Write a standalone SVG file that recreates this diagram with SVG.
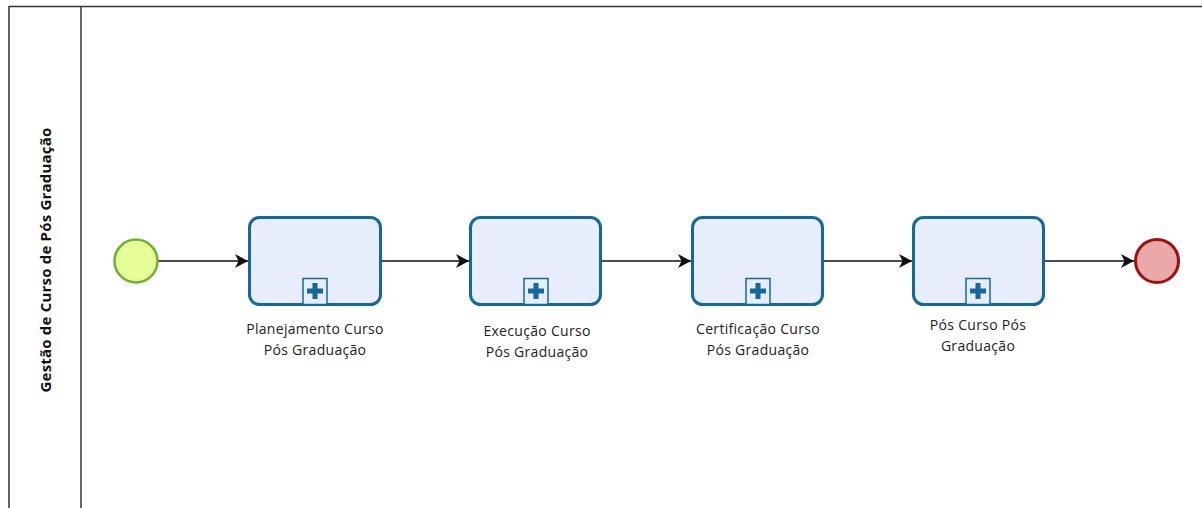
<svg xmlns="http://www.w3.org/2000/svg" width="1202" height="508" viewBox="0 0 1202 508">
<defs>
<style>
.pool{fill:#ffffff;stroke:#333333;stroke-width:1.5}
.task{fill:#e8edfb;stroke:#14689b;stroke-width:3}
.mk{fill:#e8edfb;stroke:#14689b;stroke-width:1.5}
.plus{fill:#14689b}
.lbl{font-family:"Open Sans","Noto Sans",sans-serif;font-size:14px;letter-spacing:0.3px;fill:#222222;text-anchor:middle}
.lane{font-family:"Open Sans","Noto Sans",sans-serif;font-size:15px;letter-spacing:0.2px;font-weight:bold;fill:#111111;text-anchor:middle}
.flow{stroke:#111111;stroke-width:1.5;fill:none}
</style>
<marker id="arr" viewBox="0 0 13 14" refX="13" refY="7" markerWidth="13" markerHeight="14" markerUnits="userSpaceOnUse" orient="auto">
<path d="M0,0 L13,7 L0,14 L3.5,7 Z" fill="#111111"/>
</marker>
</defs>
<rect x="0" y="0" width="1202" height="508" fill="#ffffff"/>
<g id="pool">
<path class="pool" d="M1210,6.5 L9,6.5 L9,515" fill="#fcfcfc"/>
<line x1="81" y1="6.5" x2="81" y2="515" stroke="#333333" stroke-width="1.5"/>
<text class="lane" transform="translate(51,260) rotate(-90)">Gestão de Curso de Pós Graduação</text>
</g>
<g id="connectors">
<line class="flow" x1="158" y1="261" x2="248" y2="261" marker-end="url(#arr)"/>
<line class="flow" x1="382" y1="261" x2="469" y2="261" marker-end="url(#arr)"/>
<line class="flow" x1="602" y1="261" x2="691" y2="261" marker-end="url(#arr)"/>
<line class="flow" x1="824" y1="261" x2="912" y2="261" marker-end="url(#arr)"/>
<line class="flow" x1="1044" y1="261" x2="1134" y2="261" marker-end="url(#arr)"/>
</g>
<g id="start">
<circle cx="136" cy="261" r="21.5" fill="#e6fd98" stroke="#6db234" stroke-width="2.5"/>
</g>
<g id="task1">
<rect class="task" x="249.5" y="217.5" width="131" height="87" rx="10"/>
<rect class="mk" x="303" y="278.5" width="24" height="26"/>
<rect class="plus" x="312.5" y="283" width="5" height="16"/>
<rect class="plus" x="307" y="288.5" width="16" height="5"/>
<text class="lbl" x="315" y="334">Planejamento Curso</text>
<text class="lbl" x="315" y="355">Pós Graduação</text>
</g>
<g id="task2">
<rect class="task" x="470.5" y="217.5" width="130" height="87" rx="10"/>
<rect class="mk" x="524" y="278.5" width="24" height="26"/>
<rect class="plus" x="533.5" y="283" width="5" height="16"/>
<rect class="plus" x="528" y="288.5" width="16" height="5"/>
<text class="lbl" x="537" y="336">Execução Curso</text>
<text class="lbl" x="537" y="357">Pós Graduação</text>
</g>
<g id="task3">
<rect class="task" x="692.5" y="217.5" width="130" height="87" rx="10"/>
<rect class="mk" x="746" y="278.5" width="24" height="26"/>
<rect class="plus" x="755.5" y="283" width="5" height="16"/>
<rect class="plus" x="750" y="288.5" width="16" height="5"/>
<text class="lbl" x="758" y="334">Certificação Curso</text>
<text class="lbl" x="758" y="355">Pós Graduação</text>
</g>
<g id="task4">
<rect class="task" x="913.5" y="217.5" width="130" height="87" rx="10"/>
<rect class="mk" x="966" y="278.5" width="24" height="26"/>
<rect class="plus" x="975.5" y="283" width="5" height="16"/>
<rect class="plus" x="970" y="288.5" width="16" height="5"/>
<text class="lbl" x="978" y="330">Pós Curso Pós</text>
<text class="lbl" x="978" y="351">Graduação</text>
</g>
<g id="end">
<circle cx="1157" cy="261" r="21.5" fill="#eaa8a8" stroke="#a00f0f" stroke-width="3"/>
</g>
</svg>
